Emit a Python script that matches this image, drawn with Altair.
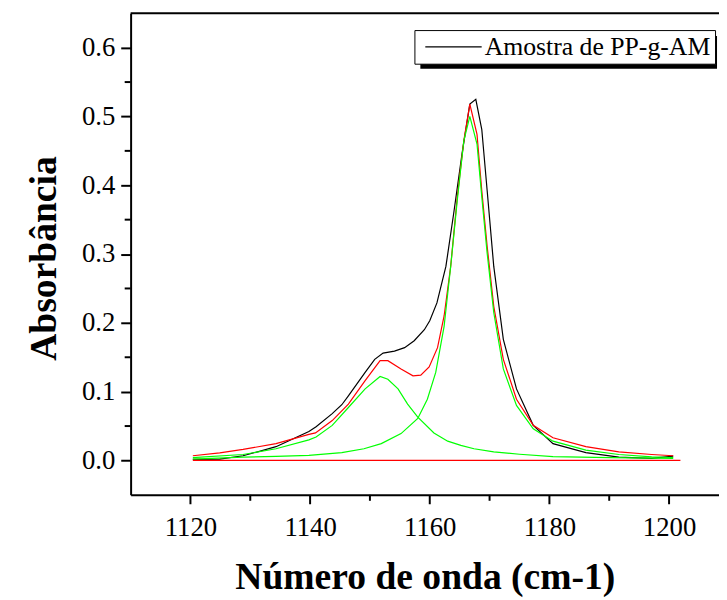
import altair as alt
import pandas as pd

# ---- data ----
black_x = [1120.4, 1124.9, 1128.8, 1134.3, 1139.8, 1141.0, 1143.7, 1145.3, 1146.4, 1149.2, 1150.8,
           1152.2, 1154.1, 1155.8, 1157.4, 1159.1, 1160.0, 1161.2, 1162.7, 1164.0, 1165.4, 1166.7,
           1167.7, 1168.7, 1169.6, 1170.7, 1172.3, 1174.5, 1177.3, 1180.6, 1186.1, 1191.6, 1197.1, 1200.7]
black_y = [0.0015, 0.002, 0.0068, 0.020, 0.042, 0.049, 0.068, 0.081, 0.094, 0.128, 0.147,
           0.156, 0.159, 0.164, 0.174, 0.190, 0.203, 0.229, 0.282, 0.359, 0.446, 0.518,
           0.525, 0.481, 0.392, 0.282, 0.176, 0.104, 0.051, 0.0245, 0.0115, 0.0048, 0.003, 0.0062]

red_x = [1120.4, 1124.9, 1128.8, 1134.3, 1139.8, 1140.9, 1143.7, 1146.4, 1149.2, 1151.7, 1153.0,
         1155.2, 1157.2, 1158.5, 1159.9, 1161.3, 1162.4, 1163.5, 1164.6, 1165.7, 1166.7, 1167.9,
         1168.7, 1169.6, 1170.7, 1172.3, 1174.5, 1177.3, 1180.6, 1186.1, 1191.6, 1197.1, 1200.7]
red_y = [0.0068, 0.011, 0.016, 0.0245, 0.038, 0.040, 0.058, 0.082, 0.116, 0.145, 0.145,
         0.133, 0.123, 0.124, 0.136, 0.164, 0.210, 0.282, 0.383, 0.465, 0.518, 0.474,
         0.392, 0.311, 0.224, 0.147, 0.089, 0.051, 0.033, 0.020, 0.0125, 0.0087, 0.0068]

g1_x = [1120.4, 1128.8, 1134.3, 1139.8, 1141.0, 1143.7, 1146.4, 1149.2, 1151.7, 1153.0, 1154.7,
        1156.3, 1158.0, 1160.7, 1163.0, 1165.2, 1167.4, 1170.7, 1175.0, 1180.6, 1190.0, 1200.7]
g1_y = [0.004, 0.0087, 0.017, 0.030, 0.034, 0.051, 0.077, 0.104, 0.122, 0.118, 0.104,
        0.082, 0.063, 0.040, 0.028, 0.022, 0.017, 0.0125, 0.009, 0.0055, 0.004, 0.003]

g2_x = [1120.4, 1128.8, 1134.3, 1139.8, 1145.3, 1149.0, 1151.9, 1155.2, 1158.0, 1159.6, 1161.0,
        1162.4, 1163.5, 1164.6, 1165.7, 1166.7, 1167.9, 1168.7, 1169.6, 1170.7, 1172.3, 1174.5,
        1177.3, 1180.6, 1186.1, 1191.6, 1197.1, 1200.7]
g2_y = [0.002, 0.0048, 0.006, 0.0075, 0.0115, 0.017, 0.0245, 0.039, 0.061, 0.089, 0.128,
        0.195, 0.282, 0.378, 0.465, 0.500, 0.460, 0.383, 0.301, 0.215, 0.133, 0.080,
        0.046, 0.028, 0.015, 0.0087, 0.0053, 0.0043]

base_x = [1120.4, 1201.9]
base_y = [0.0, 0.0]

x_major = [1120, 1140, 1160, 1180, 1200]
x_minor = [1130, 1150, 1170, 1190]
y_major = [0.0, 0.1, 0.2, 0.3, 0.4, 0.5, 0.6]
y_minor = [0.05, 0.15, 0.25, 0.35, 0.45, 0.55]

legend_label = "Amostra de PP-g-AM"

FONT = "Liberation Serif"
W, H = 595, 487
xs = alt.Scale(domain=[1110, 1208.35], nice=False, zero=False)
ys = alt.Scale(domain=[-0.05, 0.65], nice=False, zero=False)

x_axis = alt.Axis(values=x_major, format="d", title="Número de onda (cm-1)", grid=False,
                  tickSize=9, tickWidth=2, tickColor="black", domainWidth=2, domainColor="black",
                  labelFont=FONT, labelFontSize=27, labelColor="black", labelPadding=11,
                  labelFlush=False, titleFont=FONT, titleFontSize=38, titleFontWeight="bold",
                  titleColor="black", titleY=95, titleBaseline="alphabetic")
y_axis = alt.Axis(values=y_major, format=".1f", title="Absorbância", grid=False,
                  tickSize=10, tickWidth=2, tickColor="black", domainWidth=2, domainColor="black",
                  labelFont=FONT, labelFontSize=27, labelColor="black", labelPadding=6,
                  labelFlush=False, titleFont=FONT, titleFontSize=38, titleFontWeight="bold",
                  titleColor="black", titleX=-87, titleY=H / 2 + 4, titleBaseline="middle",
                  titleAngle=270)

def df(xv, yv, name):
    return pd.DataFrame({"x": xv, "y": yv, "s": name})

black_df = df(black_x, black_y, legend_label)

shadow = alt.Chart(pd.DataFrame({"a": [0]})).mark_rect(color="black").encode(
    x=alt.value(293), x2=alt.value(593), y=alt.value(23), y2=alt.value(56))

black = alt.Chart(black_df).mark_line(strokeWidth=1.2).encode(
    x=alt.X("x:Q", scale=xs, axis=x_axis),
    y=alt.Y("y:Q", scale=ys, axis=y_axis),
    color=alt.Color("s:N", scale=alt.Scale(domain=[legend_label], range=["black"]),
                    legend=alt.Legend(title=None, orient="none", legendX=287, legendY=17,
                                      strokeColor="black", fillColor="white", padding=4,
                                      symbolOffset=6, symbolType="stroke", symbolSize=3249,
                                      symbolStrokeWidth=1.2, labelFont=FONT, labelFontSize=26,
                                      labelOffset=2, labelColor="black", labelLimit=500,
                                      clipHeight=26, cornerRadius=0)))

def curve(d, color):
    return alt.Chart(d).mark_line(strokeWidth=1.2, color=color).encode(
        x=alt.X("x:Q", scale=xs), y=alt.Y("y:Q", scale=ys))

red = curve(df(red_x, red_y, "fit"), "#ff0000")
g1 = curve(df(g1_x, g1_y, "g1"), "#00ff00")
g2 = curve(df(g2_x, g2_y, "g2"), "#00ff00")
base = curve(df(base_x, base_y, "base"), "#ff0000")

top = alt.Chart(pd.DataFrame({"a": [0]})).mark_rule(color="black", strokeWidth=2).encode(
    x=alt.value(0), x2=alt.value(W), y=alt.value(0))

xminor = alt.Chart(pd.DataFrame({"v": x_minor})).mark_rule(color="black", strokeWidth=2).encode(
    x=alt.X("v:Q", scale=xs), y=alt.value(H), y2=alt.value(H + 6))
yminor = alt.Chart(pd.DataFrame({"v": y_minor})).mark_rule(color="black", strokeWidth=2).encode(
    y=alt.Y("v:Q", scale=ys), x=alt.value(-6), x2=alt.value(0))

chart = alt.layer(shadow, black, red, g1, g2, base, top, xminor, yminor).properties(
    width=W, height=H,
    padding={"left": 124, "top": 2, "right": 0, "bottom": 103},
    autosize=alt.AutoSizeParams(type="none"),
).configure_view(stroke=None).configure_axis(labelFont=FONT, titleFont=FONT)

chart.save("out.html", embed_options={"renderer": "svg", "actions": False})
